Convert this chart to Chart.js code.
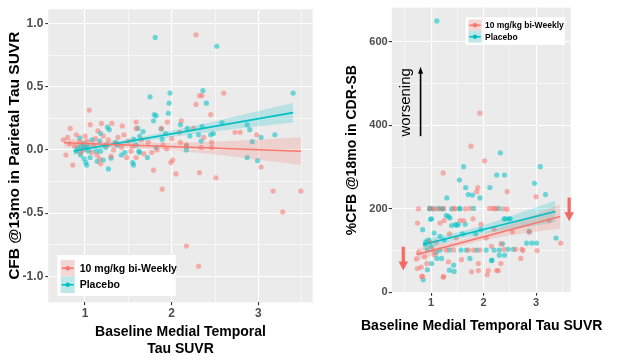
<!DOCTYPE html>
<html><head><meta charset="utf-8">
<script src="https://cdn.jsdelivr.net/npm/chart.js@4.4.1/dist/chart.umd.min.js"></script>
<style>
html,body{margin:0;padding:0;background:#fff;}
#wrap{position:relative;width:627px;height:360px;overflow:hidden;background:#fff;}
canvas{position:absolute;top:0;}
#c1{left:0;} #c2{left:320px;}
</style></head><body>
<div id="wrap"><canvas id="c1" width="320" height="360"></canvas><canvas id="c2" width="307" height="360"></canvas></div>
<script>
// ---------- names ----------
const seriesNames = ['10 mg/kg bi-Weekly', 'Placebo'];

// ---------- LEFT PANEL (x: baseline MTL tau SUVR, y: CFB @13mo parietal tau SUVR) ----------
const leftDose = [
 [0.75,0.08],[0.78,-0.04],[0.86,-0.12],[0.82,0.05],[0.83,0.17],[0.80,0.10],[0.88,0.03],[0.90,0.12],[0.94,0.06],
 [0.95,-0.02],[0.98,0.00],[1.00,0.11],[1.02,0.07],[1.05,0.315],[1.06,0.20],[1.08,-0.02],[1.10,0.04],[1.12,0.09],
 [1.14,-0.04],[1.15,0.15],[1.17,-0.07],[1.18,-0.11],[1.19,0.21],[1.21,0.11],[1.25,0.04],[1.27,0.08],[1.30,-0.05],
 [1.31,0.21],[1.33,0.00],[1.36,0.05],[1.38,0.10],[1.42,0.02],[1.43,0.19],[1.45,0.12],[1.48,-0.06],[1.50,0.07],
 [1.53,-0.01],[1.55,0.03],[1.59,0.22],[1.59,0.17],[1.59,-0.06],[1.65,0.08],[1.68,-0.03],[1.73,0.06],[1.77,-0.02],
 [1.79,-0.16],[1.83,0.00],[1.88,0.17],[1.89,-0.31],[1.90,0.04],[1.94,0.01],[1.95,0.22],[1.99,-0.10],[2.00,0.09],
 [2.01,-0.08],[2.05,-0.19],[2.09,0.14],[2.10,0.06],[2.11,0.23],[2.17,0.04],[2.17,-0.76],[2.25,0.17],[2.28,0.91],
 [2.28,0.36],[2.31,-0.92],[2.32,0.43],[2.32,-0.18],[2.34,0.02],[2.35,0.43],[2.37,0.10],[2.45,0.28],[2.46,0.06],
 [2.46,0.02],[2.51,-0.22],[2.60,0.45],[2.73,0.14],[2.79,0.14],[2.98,0.12],[3.03,-0.135],[3.17,-0.325],[3.28,-0.49],
 [3.49,-0.325]
];
const leftPlacebo = [
 [0.90,-0.01],[0.92,0.02],[0.94,0.095],[0.95,-0.04],[0.96,0.03],[0.98,0.05],[0.99,-0.07],[1.00,0.02],[1.01,-0.10],
 [1.02,-0.12],[1.03,0.03],[1.04,-0.01],[1.06,-0.06],[1.08,0.08],[1.13,-0.01],[1.14,-0.09],[1.17,0.07],[1.18,0.13],
 [1.18,-0.01],[1.21,-0.08],[1.24,0.02],[1.26,0.18],[1.27,-0.15],[1.28,0.16],[1.30,-0.065],[1.35,0.06],[1.37,0.04],
 [1.42,-0.04],[1.46,-0.02],[1.55,-0.10],[1.56,0.085],[1.56,-0.12],[1.59,0.04],[1.61,0.17],[1.62,-0.01],[1.63,0.11],
 [1.63,-0.02],[1.67,0.145],[1.72,-0.06],[1.75,0.42],[1.79,0.23],[1.80,0.28],[1.81,0.89],[1.82,0.27],[1.82,0.02],
 [1.88,0.165],[1.89,0.085],[1.93,0.13],[1.96,0.29],[1.97,0.37],[1.98,0.45],[2.10,0.20],[2.17,0.03],[2.17,0.00],
 [2.18,0.17],[2.21,0.11],[2.31,0.12],[2.34,0.07],[2.35,0.185],[2.36,0.47],[2.40,0.37],[2.45,0.12],[2.48,0.13],
 [2.52,0.82],[2.58,0.215],[2.87,0.20],[2.87,-0.06],[2.90,0.16],[2.93,0.065],[2.99,-0.085],[3.03,0.10],[3.19,0.12],
 [3.40,0.45]
];
const leftDoseFitX = [0.76, 3.49];
const leftDoseFitY = [0.057, -0.010];
const leftPlaceboFitX = [0.87, 3.40];
const leftPlaceboFitY = [-0.008, 0.295];
const leftDoseBandX = [0.76, 1.2, 1.6, 2.0, 2.5, 3.0, 3.49];
const leftDoseBandLow = [0.022, 0.021, 0.014, -0.003, -0.036, -0.078, -0.120];
const leftDoseBandHigh = [0.092, 0.071, 0.058, 0.057, 0.064, 0.082, 0.100];
const leftPlaceboBandX = [0.87, 1.2, 1.6, 2.0, 2.5, 3.0, 3.40];
const leftPlaceboBandLow = [-0.038, 0.012, 0.061, 0.102, 0.147, 0.187, 0.217];
const leftPlaceboBandHigh = [0.022, 0.052, 0.097, 0.152, 0.227, 0.307, 0.373];
const leftXTicks = [1, 2, 3];
const leftXTickLabels = ['1', '2', '3'];
const leftXMinor = [1.5, 2.5, 3.5];
const leftYTicks = [-1, -0.5, 0, 0.5, 1];
const leftYTickLabels = ['-1.0', '-0.5', '0.0', '0.5', '1.0'];
const leftYMinor = [-0.75, -0.25, 0.25, 0.75];
const leftXTitle = ['Baseline Medial Temporal', 'Tau SUVR'];
const leftYTitle = 'CFB @13mo in Parietal Tau SUVR';

// ---------- RIGHT PANEL (x: baseline MTL tau SUVR, y: %CFB @18mo in CDR-SB) ----------
const rightDose = [
 [0.72,80],[0.74,166],[0.74,57],[0.76,200],[0.76,95],[0.81,60],[0.82,38],[0.84,38],[0.88,85],[0.92,69],[0.98,121],
 [0.99,201],[1.04,101],[1.06,200],[1.06,90],[1.10,120],[1.14,200],[1.17,166],[1.23,286],[1.23,36],[1.24,201],
 [1.24,38],[1.25,172],[1.29,101],[1.33,73],[1.35,140],[1.43,201],[1.43,101],[1.46,200],[1.48,130],[1.55,172],
 [1.58,78],[1.62,172],[1.65,200],[1.71,101],[1.74,201],[1.76,350],[1.77,49],[1.80,176],[1.81,101],[1.87,241],
 [1.89,251],[1.90,52],[1.90,69],[1.93,429],[1.93,101],[1.95,163],[2.02,315],[2.05,130],[2.07,42],[2.09,52],
 [2.11,201],[2.15,110],[2.17,201],[2.20,152],[2.22,200],[2.24,201],[2.25,52],[2.28,52],[2.33,69],[2.33,116],
 [2.38,200],[2.39,103],[2.45,241],[2.45,199],[2.55,145],[2.61,103],[2.71,81],[2.73,103],[2.75,100],[2.87,144],
 [3.00,229],[3.02,100],[3.25,172],[3.47,118]
];
const rightPlacebo = [
 [0.84,150],[0.85,30],[0.89,115],[0.90,120],[0.93,101],[0.93,54],[0.95,125],[0.97,201],[0.98,200],[0.99,175],
 [1.00,110],[1.01,176],[1.01,69],[1.04,200],[1.06,142],[1.10,95],[1.11,650],[1.11,81],[1.14,201],[1.17,134],
 [1.17,101],[1.20,200],[1.20,81],[1.23,200],[1.25,125],[1.29,184],[1.30,226],[1.33,182],[1.35,101],[1.35,53],
 [1.36,178],[1.39,200],[1.39,160],[1.43,65],[1.44,50],[1.46,163],[1.49,160],[1.52,163],[1.54,269],[1.54,201],
 [1.55,200],[1.57,101],[1.60,140],[1.62,301],[1.65,163],[1.66,251],[1.67,101],[1.71,234],[1.74,81],[1.79,233],
 [1.81,201],[1.85,140],[1.87,101],[1.93,226],[1.95,150],[2.05,101],[2.12,251],[2.15,76],[2.16,77],[2.20,101],
 [2.25,281],[2.29,201],[2.30,101],[2.30,89],[2.32,334],[2.36,116],[2.39,176],[2.40,281],[2.40,89],[2.42,176],
 [2.47,103],[2.48,176],[2.51,176],[2.57,103],[2.82,118],[2.87,146],[2.92,118],[2.97,261],[3.01,118],[3.08,301],
 [3.18,234],[3.38,130]
];
const rightDoseFitX = [0.73, 3.46];
const rightDoseFitY = [90.7, 181.7];
const rightPlaceboFitX = [0.85, 3.37];
const rightPlaceboFitY = [114.5, 193.6];
const rightDoseBandX = [0.73, 1.2, 1.6, 2.0, 2.5, 3.0, 3.46];
const rightDoseBandLow = [75.7, 97.4, 112.7, 125.0, 136.7, 145.3, 152.7];
const rightDoseBandHigh = [105.7, 115.4, 126.7, 141.0, 162.7, 187.3, 210.7];
const rightPlaceboBandX = [0.85, 1.2, 1.6, 2.0, 2.5, 3.0, 3.37];
const rightPlaceboBandLow = [100.5, 115.5, 130.1, 140.6, 151.3, 160.0, 167.6];
const rightPlaceboBandHigh = [128.5, 135.5, 146.1, 160.6, 181.3, 204.0, 219.6];
const rightXTicks = [1, 2, 3];
const rightXTickLabels = ['1', '2', '3'];
const rightXMinor = [0.5, 1.5, 2.5, 3.5];
const rightYTicks = [0, 200, 400, 600];
const rightYTickLabels = ['0', '200', '400', '600'];
const rightYMinor = [100, 300, 500];
const rightXTitle = 'Baseline Medial Temporal Tau SUVR';
const rightYTitle = '%CFB @18mo in CDR-SB';
const rightNote = 'worsening';

// ---------- styling ----------
const RED = '#F8766D', TEAL = '#00BFC4';
const RED_PT = 'rgba(248,118,109,0.55)', TEAL_PT = 'rgba(0,191,196,0.55)';
const RED_BAND = 'rgba(248,118,109,0.22)', TEAL_BAND = 'rgba(0,191,196,0.22)';
const ARROW_RED = '#F26A64';
const FONT = '"Liberation Sans", Arial, Helvetica, sans-serif';
const PANEL_BG = '#EBEBEB';
const NONE = 'rgba(0,0,0,0)';

const zipXY = (xs, ys) => xs.map((x, i) => ({x: x, y: ys[i]}));
const pairs = arr => arr.map(p => ({x: p[0], y: p[1]}));

function datasets(d) {
  return [
    {type:'line', data: zipXY(d.doseFitX, d.doseFitY), borderColor: RED, borderWidth: 1.6, pointRadius: 0, fill: false, order: 0},
    {type:'line', data: zipXY(d.placFitX, d.placFitY), borderColor: TEAL, borderWidth: 1.6, pointRadius: 0, fill: false, order: 0},
    {type:'line', data: zipXY(d.doseBandX, d.doseBandLow), borderColor: NONE, borderWidth: 0.01, pointRadius: 0, fill: false, order: 1},
    {type:'line', data: zipXY(d.doseBandX, d.doseBandHigh), borderColor: NONE, borderWidth: 0.01, pointRadius: 0, backgroundColor: RED_BAND, fill: '-1', order: 1},
    {type:'line', data: zipXY(d.placBandX, d.placBandLow), borderColor: NONE, borderWidth: 0.01, pointRadius: 0, fill: false, order: 1},
    {type:'line', data: zipXY(d.placBandX, d.placBandHigh), borderColor: NONE, borderWidth: 0.01, pointRadius: 0, backgroundColor: TEAL_BAND, fill: '-1', order: 1},
    {type:'scatter', label: seriesNames[0], data: pairs(d.dose), backgroundColor: RED_PT, borderWidth: 0, pointRadius: 2.6, order: 2},
    {type:'scatter', label: seriesNames[1], data: pairs(d.plac), backgroundColor: TEAL_PT, borderWidth: 0, pointRadius: 2.6, order: 2}
  ];
}

function axis(L, isX) {
  const major = isX ? L.xTicks : L.yTicks;
  const minor = isX ? L.xMinor : L.yMinor;
  const labels = isX ? L.xTickLabels : L.yTickLabels;
  const isMajor = v => major.some(m => Math.abs(m - v) < 1e-9);
  return {
    type: 'linear',
    position: isX ? 'bottom' : 'left',
    min: isX ? L.xMin : L.yMin,
    max: isX ? L.xMax : L.yMax,
    afterBuildTicks: s => { s.ticks = major.concat(minor).sort((a, b) => a - b).map(v => ({value: v})); },
    afterFit: s => { if (isX) s.height = L.xAxisH; else s.width = L.yAxisW; },
    ticks: {
      autoSkip: false, maxRotation: 0, minRotation: 0,
      padding: isX ? L.xTickPad : L.yTickPad,
      color: '#4D4D4D',
      font: {family: FONT, size: L.tickSize, weight: 'bold'},
      callback: v => { const i = major.findIndex(m => Math.abs(m - v) < 1e-9); return i < 0 ? '' : labels[i]; }
    },
    grid: {
      color: '#FFFFFF',
      lineWidth: c => (c.tick && isMajor(c.tick.value)) ? 1.1 : 0.55,
      tickColor: c => (c.tick && isMajor(c.tick.value)) ? '#333333' : NONE,
      tickLength: 3, drawTicks: true, drawOnChartArea: true
    },
    border: {display: false},
    title: {
      display: !(isX && L.freeXTitle),
      text: isX ? L.xTitle : L.yTitle,
      color: '#000000',
      font: {family: FONT, size: isX ? 14 : L.yTitleSize, weight: 'bold', lineHeight: 1.2},
      padding: isX ? {top: 0, bottom: L.xTitlePad} : {top: L.yTitlePad, bottom: 0}
    }
  };
}

const bgPlugin = {
  id: 'panelBg',
  beforeDraw(chart) {
    const a = chart.chartArea, ctx = chart.ctx;
    ctx.save(); ctx.fillStyle = PANEL_BG;
    ctx.fillRect(a.left, a.top, a.right - a.left, a.bottom - a.top);
    ctx.restore();
  }
};

// x-axis title wider than the panel (drawn centred under the panel, not squeezed to its width)
function wideTitlePlugin(text, centerOffset, y) {
  return {
    id: 'wideTitle',
    afterDraw(chart) {
      const a = chart.chartArea, ctx = chart.ctx;
      ctx.save();
      ctx.font = 'bold 14px ' + FONT; ctx.fillStyle = '#000';
      ctx.textAlign = 'center'; ctx.textBaseline = 'middle';
      ctx.fillText(text, (a.left + a.right) / 2 + centerOffset, y);
      ctx.restore();
    }
  };
}

function legendPlugin(spec) {
  return {
    id: 'keyBox',
    afterDraw(chart) {
      const ctx = chart.ctx;
      ctx.save();
      ctx.fillStyle = '#FFFFFF';
      ctx.fillRect(spec.x, spec.y, spec.w, spec.h);
      const cols = [[RED, RED_BAND], [TEAL, TEAL_BAND]];
      seriesNames.forEach((name, i) => {
        const ry = spec.rowY[i], rh = spec.rowH;
        ctx.fillStyle = '#F2F2F2';
        ctx.fillRect(spec.keyX, ry, spec.keyW, rh);
        ctx.fillStyle = cols[i][1];
        ctx.fillRect(spec.keyX, ry, spec.keyW, rh);
        const cy = ry + rh / 2;
        ctx.strokeStyle = cols[i][0]; ctx.lineWidth = 1.6;
        ctx.beginPath(); ctx.moveTo(spec.keyX + 1, cy); ctx.lineTo(spec.keyX + spec.keyW - 1, cy); ctx.stroke();
        ctx.fillStyle = cols[i][0];
        ctx.beginPath(); ctx.arc(spec.keyX + spec.keyW / 2, cy, 2.2, 0, Math.PI * 2); ctx.fill();
        ctx.fillStyle = '#000000';
        ctx.font = 'bold ' + spec.font + 'px ' + FONT;
        ctx.textBaseline = 'middle'; ctx.textAlign = 'left';
        ctx.fillText(name, spec.textX, cy + 0.5);
      });
      ctx.restore();
    }
  };
}

function drawArrow(ctx, x, yTail, yHead, color, lw, headW, headL) {
  const dir = yHead < yTail ? -1 : 1;
  ctx.save();
  ctx.strokeStyle = color; ctx.fillStyle = color; ctx.lineWidth = lw;
  ctx.beginPath(); ctx.moveTo(x, yTail); ctx.lineTo(x, yHead - dir * headL * 0.8); ctx.stroke();
  ctx.beginPath();
  ctx.moveTo(x, yHead);
  ctx.lineTo(x - headW / 2, yHead - dir * headL);
  ctx.lineTo(x + headW / 2, yHead - dir * headL);
  ctx.closePath(); ctx.fill();
  ctx.restore();
}

// annotation placement in the right panel's data space
const rightAnnot = {
  note: {x: 0.52, y: 455},
  blackArrow: {x: 0.80, tail: 374, head: 540},
  redArrows: [{x: 0.47, tail: 109, head: 52}, {x: 3.63, tail: 227, head: 170}]
};

const annotPlugin = {
  id: 'annot',
  afterDraw(chart) {
    const ctx = chart.ctx, sx = chart.scales.x, sy = chart.scales.y;
    const A = rightAnnot;
    ctx.save();
    ctx.translate(sx.getPixelForValue(A.note.x), sy.getPixelForValue(A.note.y));
    ctx.rotate(-Math.PI / 2);
    ctx.font = '15px ' + FONT; ctx.fillStyle = '#000'; ctx.textAlign = 'center'; ctx.textBaseline = 'middle';
    ctx.fillText(rightNote, 0, 0);
    ctx.restore();
    drawArrow(ctx, sx.getPixelForValue(A.blackArrow.x), sy.getPixelForValue(A.blackArrow.tail), sy.getPixelForValue(A.blackArrow.head), '#000', 1.6, 5, 7);
    A.redArrows.forEach(r => drawArrow(ctx, sx.getPixelForValue(r.x), sy.getPixelForValue(r.tail), sy.getPixelForValue(r.head), ARROW_RED, 3.2, 9.5, 9));
  }
};

function build(canvasId, d, L, plugins) {
  return new Chart(document.getElementById(canvasId), {
    type: 'scatter',
    data: {datasets: datasets(d)},
    options: {
      responsive: false, animation: false, events: [],
      layout: {padding: {left: 0, top: L.padTop, right: L.padRight, bottom: 0}},
      plugins: {legend: {display: false}, tooltip: {enabled: false}},
      elements: {line: {tension: 0}},
      scales: {x: axis(L, true), y: axis(L, false)}
    },
    plugins: [bgPlugin].concat(plugins)
  });
}

Chart.defaults.font.family = FONT;

build('c1', {
  dose: leftDose, plac: leftPlacebo,
  doseFitX: leftDoseFitX, doseFitY: leftDoseFitY, placFitX: leftPlaceboFitX, placFitY: leftPlaceboFitY,
  doseBandX: leftDoseBandX, doseBandLow: leftDoseBandLow, doseBandHigh: leftDoseBandHigh,
  placBandX: leftPlaceboBandX, placBandLow: leftPlaceboBandLow, placBandHigh: leftPlaceboBandHigh
}, {
  xMin: 0.577, xMax: 3.626, yMin: -1.205, yMax: 1.113,
  xTicks: leftXTicks, xTickLabels: leftXTickLabels, xMinor: leftXMinor,
  yTicks: leftYTicks, yTickLabels: leftYTickLabels, yMinor: leftYMinor,
  xTitle: leftXTitle, yTitle: leftYTitle, yTitleSize: 15.5,
  tickSize: 12, xTickPad: 1, yTickPad: 2,
  xAxisH: 57.7, yAxisW: 48.3, xTitlePad: 2.6, yTitlePad: 5.7,
  padTop: 1, padRight: 7.3
}, [legendPlugin({x: 57.3, y: 255, w: 118.4, h: 41, rowY: [260, 276.5], rowH: 16.5, keyX: 60.7, keyW: 14, textX: 79.7, font: 10.5})]);

build('c2', {
  dose: rightDose, plac: rightPlacebo,
  doseFitX: rightDoseFitX, doseFitY: rightDoseFitY, placFitX: rightPlaceboFitX, placFitY: rightPlaceboFitY,
  doseBandX: rightDoseBandX, doseBandLow: rightDoseBandLow, doseBandHigh: rightDoseBandHigh,
  placBandX: rightPlaceboBandX, placBandLow: rightPlaceboBandLow, placBandHigh: rightPlaceboBandHigh
}, {
  xMin: 0.25, xMax: 3.66, yMin: -1, yMax: 682,
  xTicks: rightXTicks, xTickLabels: rightXTickLabels, xMinor: rightXMinor,
  yTicks: rightYTicks, yTickLabels: rightYTickLabels, yMinor: rightYMinor,
  xTitle: rightXTitle, yTitle: rightYTitle, yTitleSize: 14, freeXTitle: true,
  tickSize: 11, xTickPad: 1, yTickPad: 1,
  xAxisH: 67.3, yAxisW: 71.7, xTitlePad: 25.6, yTitlePad: 23.6,
  padTop: 5, padRight: 56.3
}, [legendPlugin({x: 145.7, y: 17.3, w: 99.3, h: 27.7, rowY: [19.5, 31], rowH: 11.5, keyX: 148.3, keyW: 13.4, textX: 165, font: 8.5}),
    annotPlugin, wideTitlePlugin(rightXTitle, 0.5, 326)]);
</script>
</body></html>
